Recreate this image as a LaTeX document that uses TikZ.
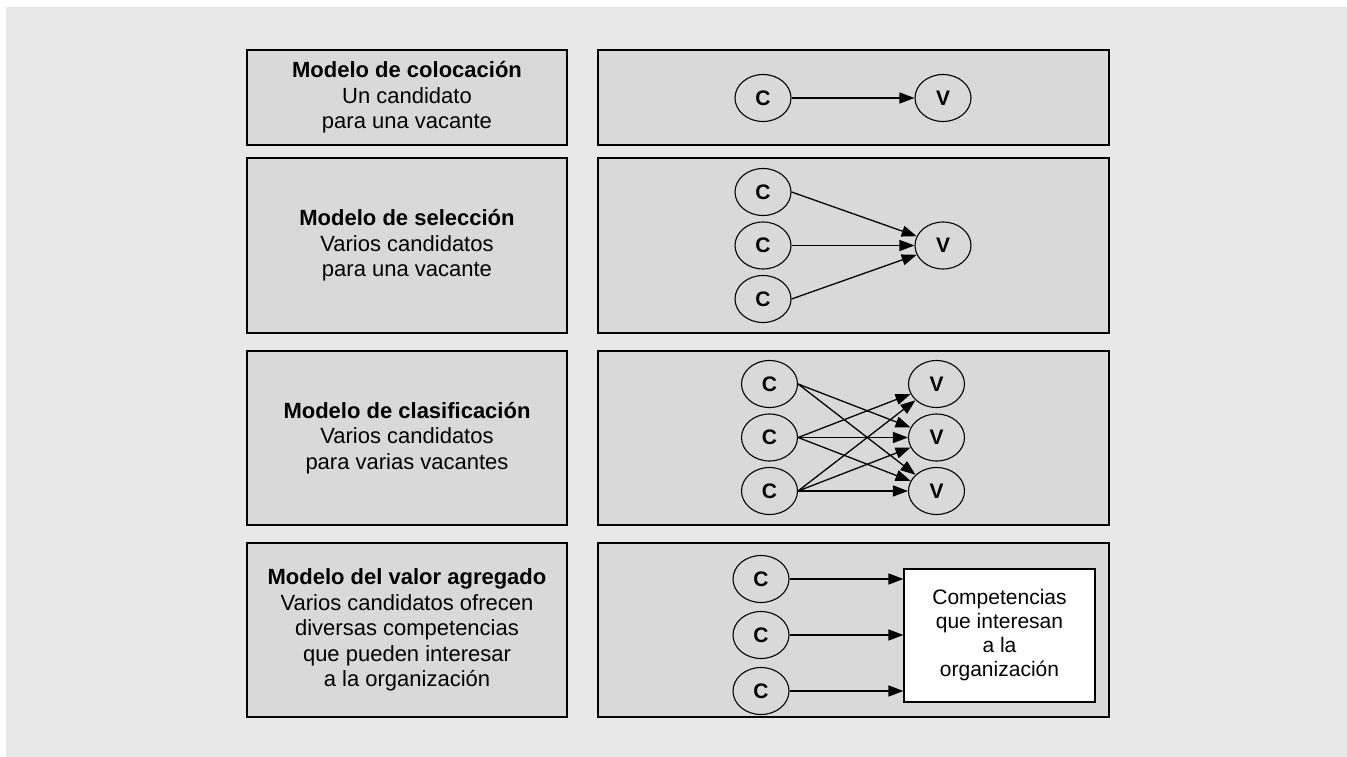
\documentclass[tikz,border=0pt]{standalone}
\usepackage{fontspec}
\setmainfont{Liberation Sans}
\usetikzlibrary{shapes.geometric,arrows.meta}
\definecolor{bggray}{HTML}{E8E8E8}
\definecolor{boxgray}{HTML}{D9D9D9}
\tikzset{
  panel/.style={draw=black, line width=1.6pt, fill=boxgray, rectangle, inner sep=0pt, align=center,
    font=\fontsize{22}{25.5}\selectfont},
  cand/.style={draw=black, line width=1.1pt, ellipse, minimum width=56pt, minimum height=47pt, inner sep=0pt,
    font=\fontsize{21}{21}\selectfont\bfseries},
  conn/.style={line width=1.3pt, -{Triangle[length=15pt,width=11pt]}},
  whitebox/.style={draw=black, line width=1.2pt, fill=white, rectangle, inner sep=0pt, align=center,
    font=\fontsize{21}{24}\selectfont}
}
\begin{document}
\begin{tikzpicture}[x=1pt,y=-1pt]
\useasboundingbox (0,0) rectangle (1347,757);
\fill[white] (0,0) rectangle (1347,757);
\fill[bggray] (6,7) rectangle (1347,757);
% left panels
\node[panel, minimum width=320pt, minimum height=95pt] (l1) at (407,97.5) {\textbf{Modelo de colocación}\\Un candidato\\para una vacante};
\node[panel, minimum width=320pt, minimum height=175pt] (l2) at (407,245.5) {\textbf{Modelo de selección}\\Varios candidatos\\para una vacante};
\node[panel, minimum width=320pt, minimum height=174pt] (l3) at (407,438) {\textbf{Modelo de clasificación}\\Varios candidatos\\para varias vacantes};
\node[panel, minimum width=320pt, minimum height=174pt] (l4) at (407,630) {\textbf{Modelo del valor agregado}\\Varios candidatos ofrecen\\diversas competencias\\que pueden interesar\\a la organización};
% right panels
\node[panel, minimum width=511pt, minimum height=95pt] (r1) at (853.5,97.5) {};
\node[panel, minimum width=511pt, minimum height=175pt] (r2) at (853.5,245.5) {};
\node[panel, minimum width=511pt, minimum height=174pt] (r3) at (853.5,438) {};
\node[panel, minimum width=511pt, minimum height=174pt] (r4) at (853.5,630) {};
% row 1
\node[cand] (ac) at (763,98) {C};
\node[cand] (av) at (943,98) {V};
\draw[conn] (ac.east) -- (av.west);
% row 2
\node[cand] (bc1) at (763,192) {C};
\node[cand] (bc2) at (763,245.5) {C};
\node[cand] (bc3) at (763,299) {C};
\node[cand] (bv) at (943,245.5) {V};
\draw[conn] (bc1.east) -- (bv);
\draw[conn] (bc2.east) -- (bv.west);
\draw[conn] (bc3.east) -- (bv);
% row 3
\node[cand] (cc1) at (769.5,384) {C};
\node[cand] (cc2) at (769.5,437.5) {C};
\node[cand] (cc3) at (769.5,491) {C};
\node[cand] (cv1) at (936.5,384) {V};
\node[cand] (cv2) at (936.5,437.5) {V};
\node[cand] (cv3) at (936.5,491) {V};
\draw[conn] (cc1.east) -- (cv2);
\draw[conn] (cc1.east) -- (cv3);
\draw[conn] (cc2.east) -- (cv1);
\draw[conn] (cc2.east) -- (cv2.west);
\draw[conn] (cc2.east) -- (cv3);
\draw[conn] (cc3.east) -- (cv1);
\draw[conn] (cc3.east) -- (cv2);
\draw[conn] (cc3.east) -- (cv3.west);
% row 4
\node[cand] (dc1) at (761,579) {C};
\node[cand] (dc2) at (761,635) {C};
\node[cand] (dc3) at (761,691) {C};
\node[whitebox, minimum width=191pt, minimum height=133pt] (comp) at (999.5,635.5) {Competencias\\que interesan\\a la\\organización};
\draw[conn] (dc1.east) -- (dc1.east -| comp.west);
\draw[conn] (dc2.east) -- (dc2.east -| comp.west);
\draw[conn] (dc3.east) -- (dc3.east -| comp.west);
\end{tikzpicture}
\end{document}
